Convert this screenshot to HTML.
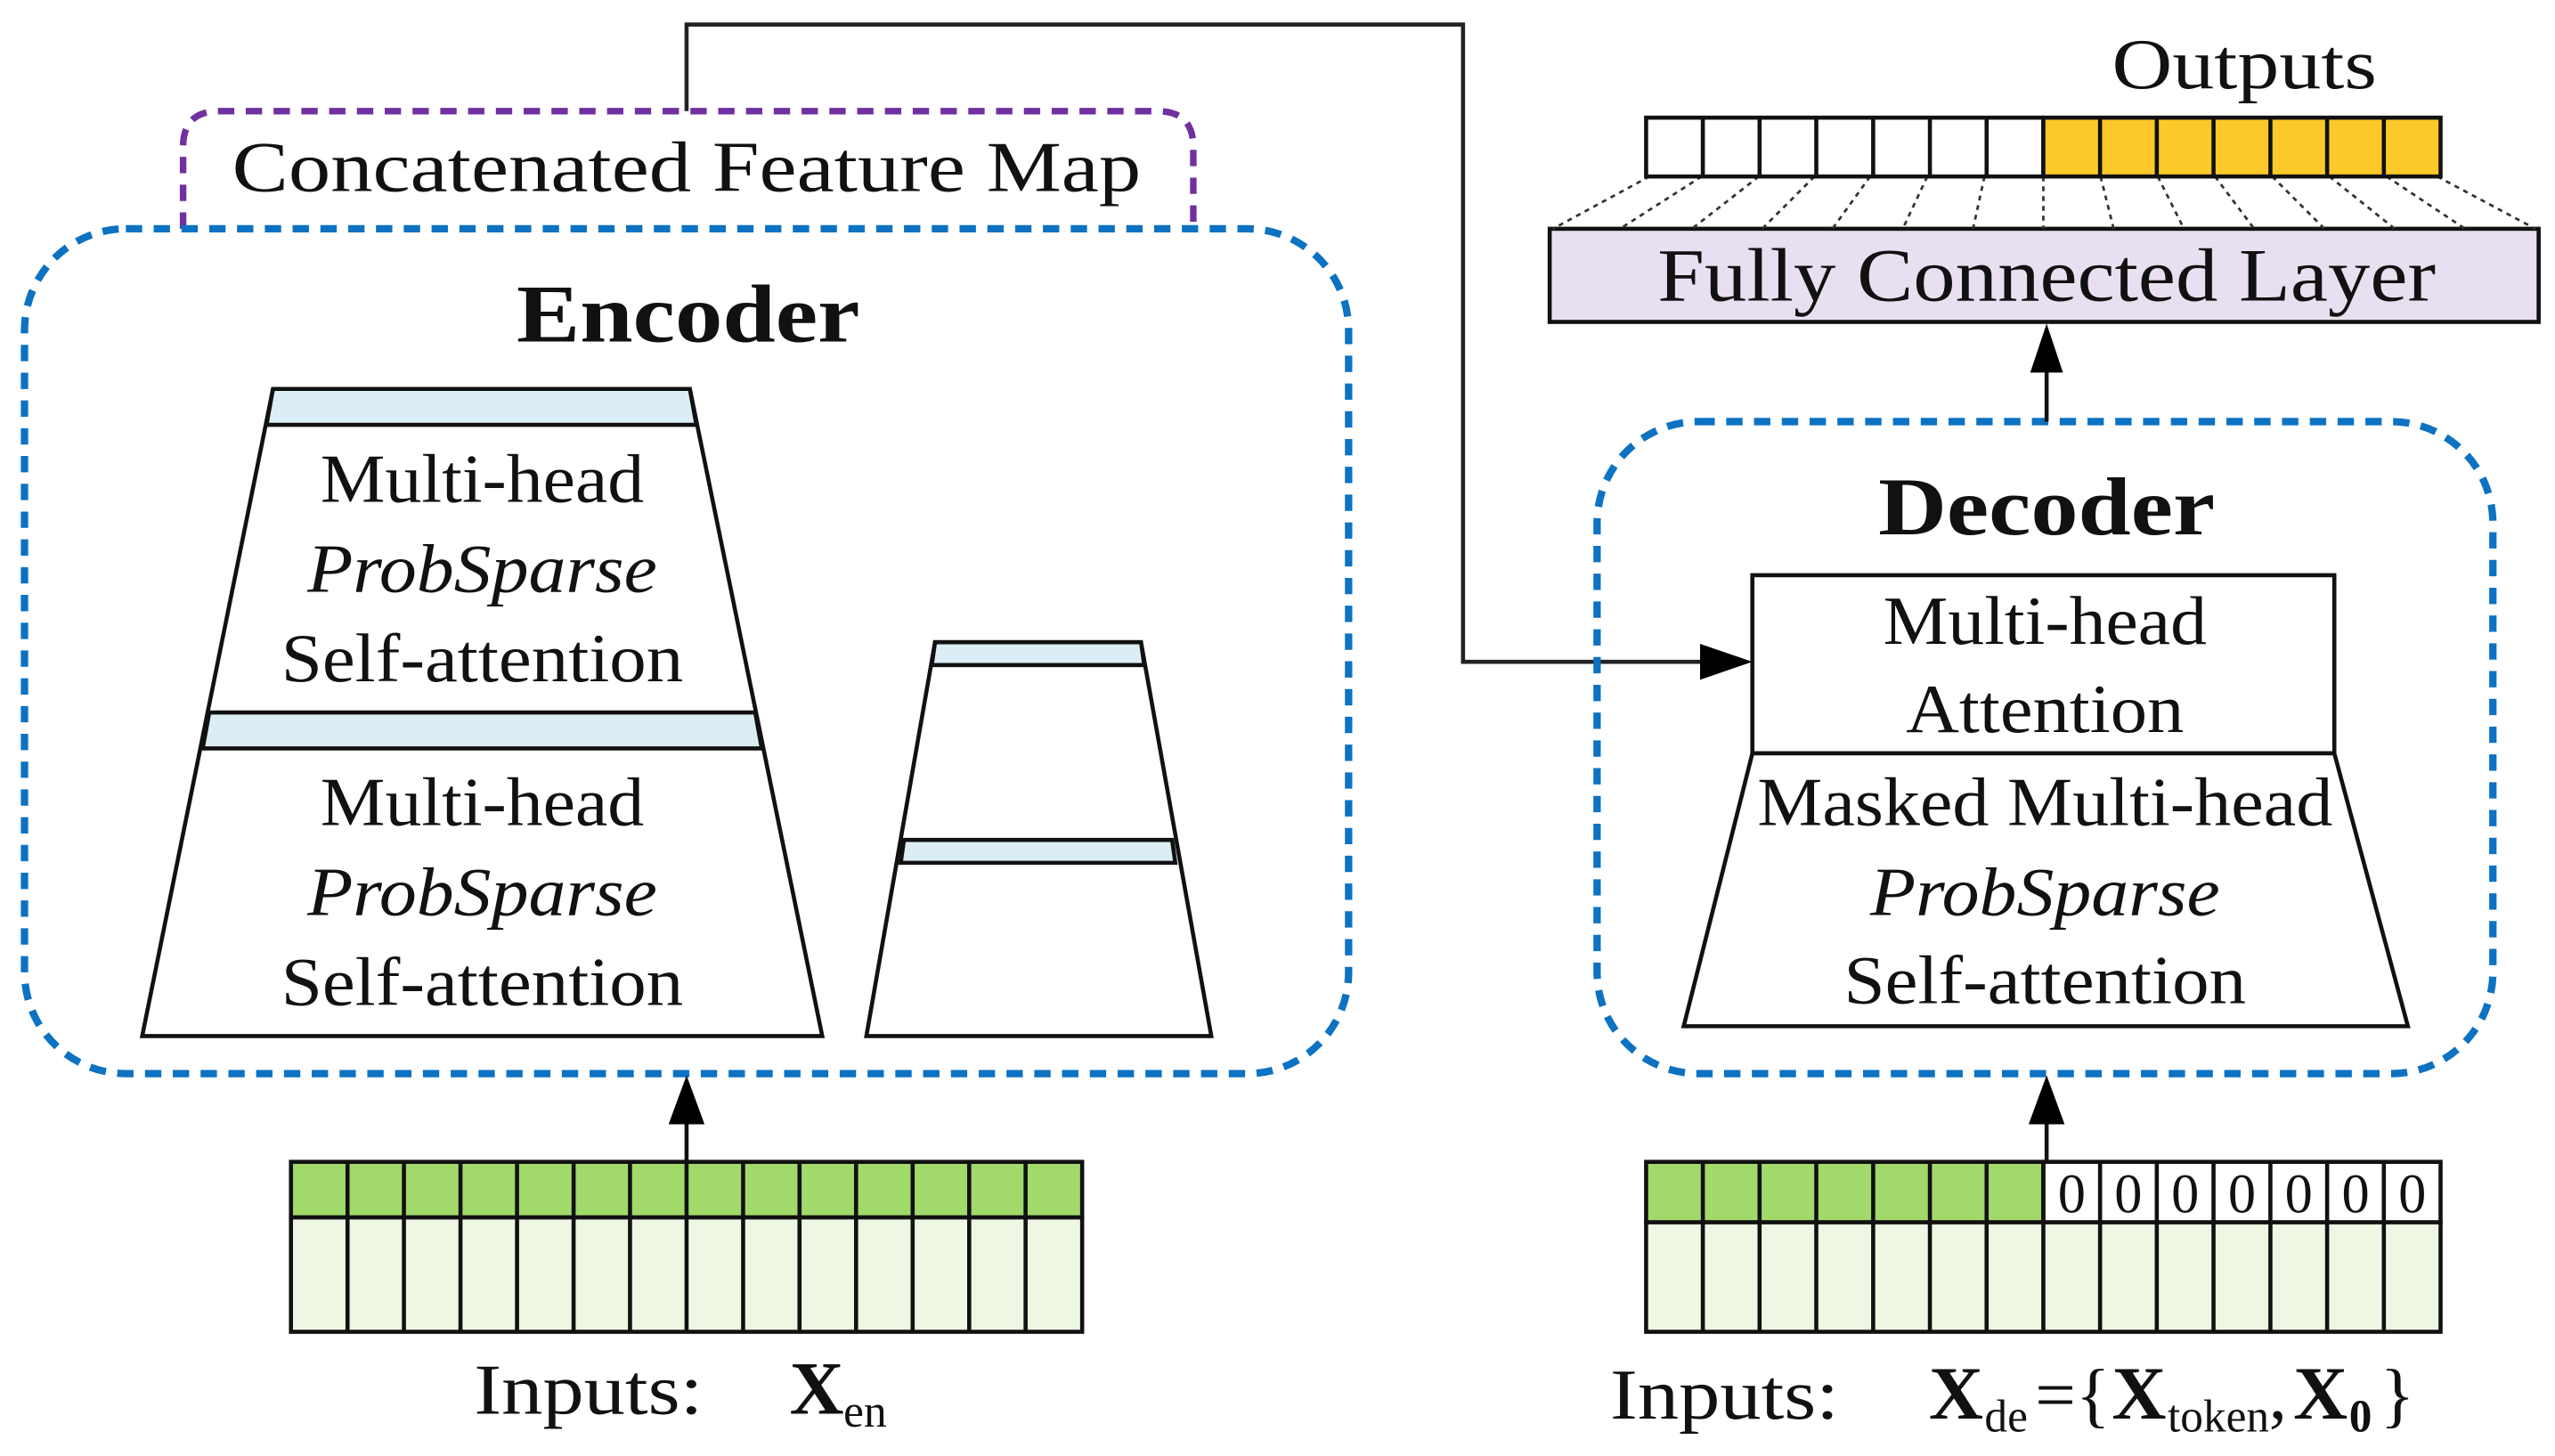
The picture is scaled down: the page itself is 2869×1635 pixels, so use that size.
<!DOCTYPE html>
<html><head><meta charset="utf-8"><style>
html,body{margin:0;padding:0;background:#fff;}
svg{display:block;}
text{font-family:"Liberation Serif",serif;fill:#111;}
</style></head><body>
<svg width="2869" height="1635" viewBox="0 0 1563 891" preserveAspectRatio="none" xmlns="http://www.w3.org/2000/svg">
<defs>
<marker id="ah" markerWidth="10" markerHeight="10" refX="9" refY="5" orient="auto" markerUnits="userSpaceOnUse" viewBox="0 0 10 10">
<path d="M0,0 L10,5 L0,10 z" fill="#000"/>
</marker>
</defs>
<!-- top connector -->
<polyline points="420,68 420,15 895,15 895,405 1048,405" fill="none" stroke="#222" stroke-width="2.5"/>
<path d="M1040,394 L1072,405 L1040,416 z" fill="#000"/>
<!-- purple dashed -->
<path d="M112,140 L112,90 Q112,68 134,68 L708,68 Q730,68 730,90 L730,140" fill="none" stroke="#7030a0" stroke-width="4" stroke-dasharray="10,7"/>
<text x="420" y="117" font-size="44" text-anchor="middle" textLength="556" lengthAdjust="spacingAndGlyphs">Concatenated Feature Map</text>
<!-- encoder box -->
<rect x="15" y="140" width="810" height="517" rx="62" fill="none" stroke="#0d72c2" stroke-width="4.5" stroke-dasharray="10,7"/>
<text x="421" y="209" font-size="50" font-weight="bold" text-anchor="middle" textLength="210" lengthAdjust="spacingAndGlyphs">Encoder</text>
<!-- big trapezoid -->
<polygon points="167,238 422,238 503,634 87,634" fill="#fff" stroke="#111" stroke-width="2.5"/>
<polygon points="167,238 422,238 426,260 163,260" fill="#dbeef5" stroke="#111" stroke-width="2.5"/>
<polygon points="128,436 462,436 466,458 124,458" fill="#dbeef5" stroke="#111" stroke-width="2.5"/>
<g font-size="42" text-anchor="middle">
<text x="295" y="307" textLength="198" lengthAdjust="spacingAndGlyphs">Multi-head</text>
<text x="295" y="362" font-style="italic" textLength="214" lengthAdjust="spacingAndGlyphs">ProbSparse</text>
<text x="295" y="417" textLength="246" lengthAdjust="spacingAndGlyphs">Self-attention</text>
<text x="295" y="505" textLength="198" lengthAdjust="spacingAndGlyphs">Multi-head</text>
<text x="295" y="560" font-style="italic" textLength="214" lengthAdjust="spacingAndGlyphs">ProbSparse</text>
<text x="295" y="615" textLength="246" lengthAdjust="spacingAndGlyphs">Self-attention</text>
</g>
<!-- small trapezoid -->
<polygon points="572,393 698,393 741,634 530,634" fill="#fff" stroke="#111" stroke-width="2.5"/>
<polygon points="572,393 698,393 700,407 570,407" fill="#dbeef5" stroke="#111" stroke-width="2.5"/>
<polygon points="553,514 717,514 719,528 551,528" fill="#dbeef5" stroke="#111" stroke-width="2.5"/>
<!-- encoder inputs -->
<rect x="178" y="711" width="484" height="34" fill="#a2d96b" stroke="#111" stroke-width="2.5"/>
<rect x="178" y="745" width="484" height="70" fill="#eef6e4" stroke="#111" stroke-width="2.5"/>
<g stroke="#111" stroke-width="2.5">
<line x1="212.6" y1="711" x2="212.6" y2="815"/><line x1="247.1" y1="711" x2="247.1" y2="815"/><line x1="281.7" y1="711" x2="281.7" y2="815"/><line x1="316.3" y1="711" x2="316.3" y2="815"/><line x1="350.9" y1="711" x2="350.9" y2="815"/><line x1="385.4" y1="711" x2="385.4" y2="815"/><line x1="420" y1="711" x2="420" y2="815"/><line x1="454.6" y1="711" x2="454.6" y2="815"/><line x1="489.1" y1="711" x2="489.1" y2="815"/><line x1="523.7" y1="711" x2="523.7" y2="815"/><line x1="558.3" y1="711" x2="558.3" y2="815"/><line x1="592.9" y1="711" x2="592.9" y2="815"/><line x1="627.4" y1="711" x2="627.4" y2="815"/>
</g>
<line x1="420" y1="711" x2="420" y2="680" stroke="#111" stroke-width="2.5"/>
<path d="M409,688 L420,658 L431,688 z" fill="#000"/>
<text x="290" y="865" font-size="44" textLength="140" lengthAdjust="spacingAndGlyphs">Inputs:</text>
<text x="483" y="865" font-size="46" font-weight="bold">X</text>
<text x="516" y="873" font-size="28">en</text>
<!-- decoder box -->
<rect x="977" y="258" width="548" height="399" rx="62" fill="none" stroke="#0d72c2" stroke-width="4.5" stroke-dasharray="10,7"/>
<text x="1252" y="327" font-size="50" font-weight="bold" text-anchor="middle" textLength="206" lengthAdjust="spacingAndGlyphs">Decoder</text>
<rect x="1072" y="352" width="356" height="109" fill="#fff" stroke="#111" stroke-width="2.5"/>
<polygon points="1072,461 1428,461 1473,628 1030,628" fill="#fff" stroke="#111" stroke-width="2.5"/>
<g font-size="42" text-anchor="middle">
<text x="1251" y="394" textLength="198" lengthAdjust="spacingAndGlyphs">Multi-head</text>
<text x="1251" y="448" textLength="170" lengthAdjust="spacingAndGlyphs">Attention</text>
<text x="1251" y="505" textLength="352" lengthAdjust="spacingAndGlyphs">Masked Multi-head</text>
<text x="1251" y="560" font-style="italic" textLength="214" lengthAdjust="spacingAndGlyphs">ProbSparse</text>
<text x="1251" y="614" textLength="246" lengthAdjust="spacingAndGlyphs">Self-attention</text>
</g>
<!-- arrow decoder to FC -->
<line x1="1252" y1="258" x2="1252" y2="222" stroke="#111" stroke-width="2.5"/>
<path d="M1242,228 L1252,198 L1262,228 z" fill="#000"/>
<!-- FC layer -->
<rect x="948" y="140" width="605" height="57" fill="#e8e0f0" stroke="#111" stroke-width="2.5"/>
<text x="1252" y="184" font-size="46" text-anchor="middle" textLength="476" lengthAdjust="spacingAndGlyphs">Fully Connected Layer</text>
<!-- dotted lines -->
<g stroke="#333" stroke-width="1.5" stroke-dasharray="3,3">
<line x1="1009" y1="108" x2="950" y2="140"/>
<line x1="1041" y1="108" x2="991" y2="140"/>
<line x1="1076" y1="108" x2="1035" y2="140"/>
<line x1="1110" y1="108" x2="1078" y2="140"/>
<line x1="1144" y1="108" x2="1121" y2="140"/>
<line x1="1179" y1="108" x2="1164" y2="140"/>
<line x1="1214" y1="108" x2="1207" y2="140"/>
<line x1="1250" y1="108" x2="1250" y2="140"/>
<line x1="1285" y1="108" x2="1293" y2="140"/>
<line x1="1320" y1="108" x2="1336" y2="140"/>
<line x1="1355" y1="108" x2="1379" y2="140"/>
<line x1="1390" y1="108" x2="1422" y2="140"/>
<line x1="1425" y1="108" x2="1465" y2="140"/>
<line x1="1460" y1="108" x2="1508" y2="140"/>
<line x1="1491" y1="108" x2="1551" y2="140"/>
</g>
<!-- outputs -->
<rect x="1007" y="72" width="243" height="36" fill="#fff" stroke="#111" stroke-width="2.5"/>
<rect x="1250" y="72" width="243" height="36" fill="#fcc92a" stroke="#111" stroke-width="2.5"/>
<g stroke="#111" stroke-width="2.5">
<line x1="1041.7" y1="72" x2="1041.7" y2="108"/><line x1="1076.4" y1="72" x2="1076.4" y2="108"/><line x1="1111.1" y1="72" x2="1111.1" y2="108"/><line x1="1145.9" y1="72" x2="1145.9" y2="108"/><line x1="1180.6" y1="72" x2="1180.6" y2="108"/><line x1="1215.3" y1="72" x2="1215.3" y2="108"/><line x1="1284.7" y1="72" x2="1284.7" y2="108"/><line x1="1319.4" y1="72" x2="1319.4" y2="108"/><line x1="1354.1" y1="72" x2="1354.1" y2="108"/><line x1="1388.9" y1="72" x2="1388.9" y2="108"/><line x1="1423.6" y1="72" x2="1423.6" y2="108"/><line x1="1458.3" y1="72" x2="1458.3" y2="108"/>
</g>
<text x="1373" y="54" font-size="44" text-anchor="middle" textLength="162" lengthAdjust="spacingAndGlyphs">Outputs</text>
<!-- decoder inputs -->
<rect x="1007" y="711" width="243" height="37" fill="#a2d96b" stroke="#111" stroke-width="2.5"/>
<rect x="1250" y="711" width="243" height="37" fill="#fff" stroke="#111" stroke-width="2.5"/>
<rect x="1007" y="748" width="486" height="67" fill="#eef6e4" stroke="#111" stroke-width="2.5"/>
<g stroke="#111" stroke-width="2.5">
<line x1="1041.7" y1="711" x2="1041.7" y2="815"/><line x1="1076.4" y1="711" x2="1076.4" y2="815"/><line x1="1111.1" y1="711" x2="1111.1" y2="815"/><line x1="1145.9" y1="711" x2="1145.9" y2="815"/><line x1="1180.6" y1="711" x2="1180.6" y2="815"/><line x1="1215.3" y1="711" x2="1215.3" y2="815"/><line x1="1250" y1="711" x2="1250" y2="815"/><line x1="1284.7" y1="711" x2="1284.7" y2="815"/><line x1="1319.4" y1="711" x2="1319.4" y2="815"/><line x1="1354.1" y1="711" x2="1354.1" y2="815"/><line x1="1388.9" y1="711" x2="1388.9" y2="815"/><line x1="1423.6" y1="711" x2="1423.6" y2="815"/><line x1="1458.3" y1="711" x2="1458.3" y2="815"/>
</g>
<g font-size="34" text-anchor="middle">
<text x="1267.4" y="742">0</text><text x="1302" y="742">0</text><text x="1336.8" y="742">0</text><text x="1371.5" y="742">0</text><text x="1406.2" y="742">0</text><text x="1441" y="742">0</text><text x="1475.7" y="742">0</text>
</g>
<line x1="1252" y1="711" x2="1252" y2="680" stroke="#111" stroke-width="2.5"/>
<path d="M1241,688 L1252,658 L1263,688 z" fill="#000"/>
<text x="985" y="868" font-size="44" textLength="140" lengthAdjust="spacingAndGlyphs">Inputs:</text>
<text x="1180" y="868" font-size="46" font-weight="bold">X</text>
<text x="1214" y="876" font-size="28">de</text>
<text x="1245" y="868" font-size="44">={</text>
<text x="1292" y="868" font-size="46" font-weight="bold">X</text>
<text x="1326" y="876" font-size="28">token</text>
<text x="1388" y="868" font-size="44">,</text>
<text x="1403" y="868" font-size="46" font-weight="bold">X</text>
<text x="1437" y="876" font-size="28" font-weight="bold">0</text>
<text x="1456" y="868" font-size="44">}</text>
</svg>
</body></html>
